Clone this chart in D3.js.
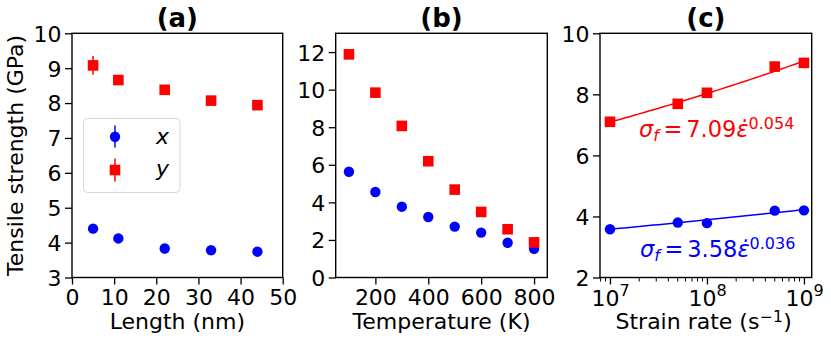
<!DOCTYPE html>
<html>
<head>
<meta charset="utf-8">
<script src="https://cdn.jsdelivr.net/npm/d3@7"></script>
<style>
  html, body { margin: 0; padding: 0; background: #fff; }
  svg text { font-family: "DejaVu Sans", sans-serif; fill: #000; }
</style>
</head>
<body>
<svg id="chart" width="831" height="345"></svg>
<script>
// ---------------- DATA ----------------
// Panel (a): length dependence
const lengthNm   = [5, 11, 22, 33, 44];
const lengthX    = [4.40, 4.12, 3.83, 3.78, 3.74];
const lengthXErr = [0.04, 0.03, 0.03, 0.03, 0.03];
const lengthY    = [9.08, 8.66, 8.38, 8.07, 7.94];
const lengthYErr = [0.27, 0.06, 0.05, 0.05, 0.05];

// Panel (b): temperature dependence
const temperatureK = [100, 200, 300, 400, 500, 600, 700, 800];
const tempX        = [5.63, 4.55, 3.77, 3.22, 2.71, 2.39, 1.85, 1.53];
const tempY        = [11.88, 9.84, 8.07, 6.19, 4.68, 3.49, 2.57, 1.87];

// Panel (c): strain-rate dependence
const strainRate = [1e7, 5e7, 1e8, 5e8, 1e9];
const rateX      = [3.58, 3.80, 3.78, 4.19, 4.20];
const rateY      = [7.10, 7.69, 8.05, 8.91, 9.03];
const fitCoefX   = [3.58, 0.036];   // sigma_f = A * (rate/1e7)^n
const fitCoefY   = [7.09, 0.054];

// Tick labels
const ticksAx = [0, 10, 20, 30, 40, 50];
const ticksAy = [3, 4, 5, 6, 7, 8, 9, 10];
const ticksBx = [200, 400, 600, 800];
const ticksBy = [0, 2, 4, 6, 8, 10, 12];
const ticksCx = [1e7, 1e8, 1e9];
const ticksCxExp = ["7", "8", "9"];
const ticksCy = [2, 4, 6, 8, 10];

const titles = ["(a)", "(b)", "(c)"];
const seriesNames = ["x", "y"];
const BLUE = "#0000ff", RED = "#ff0000";

// ---------------- LAYOUT ----------------
const svg = d3.select("#chart");
const TOP = 33.3, BOTTOM = 277.5;
const FS = 22;
const panels = [
  {l: 72, r: 282.7},
  {l: 335.7, r: 547.3},
  {l: 600, r: 811.7}
];

const xA = d3.scaleLinear().domain([0, 50]).range([panels[0].l, panels[0].r]);
const yA = d3.scaleLinear().domain([3, 10]).range([BOTTOM, TOP]);
const xB = d3.scaleLinear().domain([50, 850]).range([panels[1].l, panels[1].r]);
const yB = d3.scaleLinear().domain([0, 13]).range([BOTTOM, TOP]);
const xC = d3.scaleLog().domain([Math.pow(10, 6.897), Math.pow(10, 9.08)]).range([panels[2].l, panels[2].r]);
const yC = d3.scaleLinear().domain([2, 10]).range([BOTTOM, TOP]);

function styleAxis(g) {
  g.selectAll("path.domain").remove();
  g.selectAll(".tick line").attr("stroke", "#000").attr("stroke-width", 1.3);
  g.selectAll(".tick text").attr("font-size", FS).attr("font-family", "DejaVu Sans").attr("fill", "#000");
}

function drawAxes(x, y, xt, yt, idx, xFormat) {
  const gx = svg.append("g").attr("transform", `translate(0,${BOTTOM})`)
    .call(d3.axisBottom(x).tickValues(xt).tickSize(7).tickPadding(4.5).tickFormat(xFormat || d3.format("d")));
  styleAxis(gx);
  const gy = svg.append("g").attr("transform", `translate(${panels[idx].l},0)`)
    .call(d3.axisLeft(y).tickValues(yt).tickSize(7).tickPadding(3.5).tickFormat(d3.format("d")));
  styleAxis(gy);
  gy.selectAll(".tick text").attr("dy", "0.36em");
}

function drawFrame(idx) {
  const p = panels[idx];
  svg.append("rect").attr("x", p.l).attr("y", TOP).attr("width", p.r - p.l).attr("height", BOTTOM - TOP)
    .attr("fill", "none").attr("stroke", "#000").attr("stroke-width", 1.4);
  svg.append("text").attr("x", (p.l + p.r) / 2).attr("y", 26.5).attr("text-anchor", "middle")
    .attr("font-size", 26).attr("font-weight", "bold").text(titles[idx]);
}

function circles(g, xs, ys, xsc, ysc) {
  g.selectAll(null).data(xs).enter().append("circle")
    .attr("cx", (d) => xsc(d)).attr("cy", (d, i) => ysc(ys[i])).attr("r", 5.2).attr("fill", BLUE);
}
function squares(g, xs, ys, xsc, ysc) {
  const s = 10.6;
  g.selectAll(null).data(xs).enter().append("rect")
    .attr("x", (d) => xsc(d) - s / 2).attr("y", (d, i) => ysc(ys[i]) - s / 2)
    .attr("width", s).attr("height", s).attr("fill", RED);
}
function errbars(g, xs, ys, errs, xsc, ysc, color) {
  g.selectAll(null).data(xs).enter().append("line")
    .attr("x1", (d) => xsc(d)).attr("x2", (d) => xsc(d))
    .attr("y1", (d, i) => ysc(ys[i] - errs[i])).attr("y2", (d, i) => ysc(ys[i] + errs[i]))
    .attr("stroke", color).attr("stroke-width", 1.5);
}

// ---------------- PANEL (a) ----------------
drawAxes(xA, yA, ticksAx, ticksAy, 0);
const gA = svg.append("g");
errbars(gA, lengthNm, lengthX, lengthXErr, xA, yA, BLUE);
circles(gA, lengthNm, lengthX, xA, yA);
errbars(gA, lengthNm, lengthY, lengthYErr, xA, yA, RED);
squares(gA, lengthNm, lengthY, xA, yA);

// legend
const lg = svg.append("g");
lg.append("rect").attr("x", 83.5).attr("y", 118.5).attr("width", 96.5).attr("height", 74)
  .attr("rx", 4).attr("fill", "#fff").attr("fill-opacity", 0.8).attr("stroke", "#d6d6d6").attr("stroke-width", 1);
lg.append("line").attr("x1", 115).attr("x2", 115).attr("y1", 125.5).attr("y2", 147.5).attr("stroke", BLUE).attr("stroke-width", 1.5);
lg.append("circle").attr("cx", 115).attr("cy", 136.7).attr("r", 5.2).attr("fill", BLUE);
lg.append("line").attr("x1", 115).attr("x2", 115).attr("y1", 158.5).attr("y2", 181.5).attr("stroke", RED).attr("stroke-width", 1.5);
lg.append("rect").attr("x", 115 - 5.3).attr("y", 170 - 5.3).attr("width", 10.6).attr("height", 10.6).attr("fill", RED);
lg.append("text").attr("x", 156).attr("y", 143.5).attr("font-size", FS).attr("font-style", "italic").text(seriesNames[0]);
lg.append("text").attr("x", 156).attr("y", 175.5).attr("font-size", FS).attr("font-style", "italic").text(seriesNames[1]);

drawFrame(0);
svg.append("text").attr("x", (panels[0].l + panels[0].r) / 2).attr("y", 328.5).attr("text-anchor", "middle")
  .attr("font-size", FS).text("Length (nm)");
svg.append("text").attr("transform", `translate(23,${(TOP + BOTTOM) / 2}) rotate(-90)`).attr("text-anchor", "middle")
  .attr("font-size", FS).text("Tensile strength (GPa)");

// ---------------- PANEL (b) ----------------
drawAxes(xB, yB, ticksBx, ticksBy, 1);
const gB = svg.append("g");
circles(gB, temperatureK, tempX, xB, yB);
squares(gB, temperatureK, tempY, xB, yB);
drawFrame(1);
svg.append("text").attr("x", (panels[1].l + panels[1].r) / 2).attr("y", 328.5).attr("text-anchor", "middle")
  .attr("font-size", FS).text("Temperature (K)");

// ---------------- PANEL (c) ----------------
drawAxes(xC, yC, ticksCx, ticksCy, 2, () => "");
// minor log ticks
const minor = [];
xC.ticks().forEach((t) => { if (!ticksCx.includes(t)) minor.push(t); });
svg.append("g").selectAll(null).data(minor).enter().append("line")
  .attr("x1", (d) => xC(d)).attr("x2", (d) => xC(d)).attr("y1", BOTTOM).attr("y2", BOTTOM + 4)
  .attr("stroke", "#000").attr("stroke-width", 1);
// custom 10^n labels (base and exponent as separate texts)
ticksCx.forEach((t, i) => {
  const cx = xC(t);
  svg.append("text").attr("x", cx - 4.5).attr("y", 305.5).attr("text-anchor", "middle").attr("font-size", FS).text("10");
  svg.append("text").attr("x", cx + 9.5).attr("y", 296).attr("text-anchor", "start").attr("font-size", 16).text(ticksCxExp[i]);
});

// fit curves
function fitPts(coef) {
  const lo = Math.log10(strainRate[0]), hi = Math.log10(strainRate[strainRate.length - 1]);
  return d3.range(0, 41).map((k) => {
    const r = Math.pow(10, lo + (hi - lo) * k / 40);
    return [r, coef[0] * Math.pow(r / strainRate[0], coef[1])];
  });
}
const lineC = d3.line().x((d) => xC(d[0])).y((d) => yC(d[1]));
const gC = svg.append("g");
gC.append("path").attr("d", lineC(fitPts(fitCoefY))).attr("fill", "none").attr("stroke", RED).attr("stroke-width", 1.5);
gC.append("path").attr("d", lineC(fitPts(fitCoefX))).attr("fill", "none").attr("stroke", BLUE).attr("stroke-width", 1.5);
squares(gC, strainRate, rateY, xC, yC);
circles(gC, strainRate, rateX, xC, yC);

function fitLabel(xp, yp, coef, color) {
  const MS = 22.5, SS = 16;
  const t = svg.append("text").attr("x", xp).attr("y", yp).attr("font-size", MS).style("fill", color);
  t.append("tspan").attr("font-style", "italic").text("σ");
  t.append("tspan").attr("font-style", "italic").attr("font-size", SS).attr("dy", 4).text("f");
  t.append("tspan").attr("dy", -4).attr("dx", 4.5).text("=");
  t.append("tspan").attr("dx", 4).text(coef[0].toFixed(2));
  t.append("tspan").attr("font-style", "italic").text("ε\u0307");
  t.append("tspan").attr("font-size", SS).attr("dy", -7.5).text(String(coef[1]));
}
fitLabel(639, 136.7, fitCoefY, RED);
fitLabel(640, 256.7, fitCoefX, BLUE);

drawFrame(2);
// x label: main part, superscript, closing parenthesis as separate texts
const xlMain = svg.append("text").attr("x", 615.5).attr("y", 328.5).attr("font-size", FS).text("Strain rate (s");
const wMain = xlMain.node().getComputedTextLength();
const xlSup = svg.append("text").attr("x", 615.5 + wMain + 0.5).attr("y", 321.5).attr("font-size", 15.5).text("\u22121");
const wSup = xlSup.node().getComputedTextLength();
svg.append("text").attr("x", 615.5 + wMain + wSup + 1).attr("y", 328.5).attr("font-size", FS).text(")");
</script>
</body>
</html>
